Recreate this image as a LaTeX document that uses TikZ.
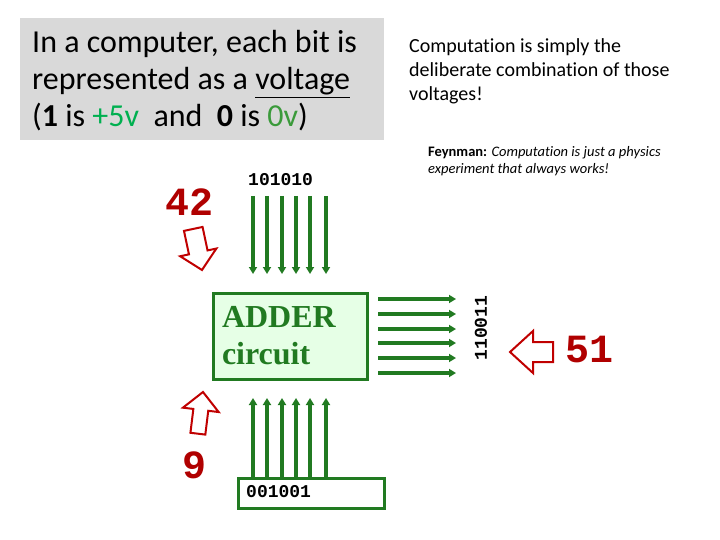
\documentclass[tikz,border=0pt]{standalone}
\usepackage{fontspec}
\setmainfont[Ligatures=NoCommon]{Carlito}
\newfontfamily\codefont{Liberation Mono}
\newfontfamily\adderfont{Liberation Serif}
\usepackage{xcolor}
\definecolor{busgreen}{HTML}{217A21}
\definecolor{adderfill}{HTML}{E6FFE6}
\definecolor{numred}{HTML}{B00000}
\definecolor{arrred}{HTML}{C00000}
\definecolor{panelgray}{HTML}{D9D9D9}
\definecolor{plusgreen}{HTML}{00B050}
\definecolor{zerogreen}{HTML}{3A9A3A}
\usepackage{tikz}
\usetikzlibrary{arrows.meta}

\begin{document}
\begin{tikzpicture}[x=1pt,y=-1pt,
  bus/.style={busgreen,line width=3.5pt,-{Triangle[length=7pt,width=8pt]}},
  bits/.style={font=\codefont\bfseries\fontsize{18}{18}\selectfont,inner sep=0pt},
  num/.style={font=\codefont\bfseries\fontsize{40}{40}\selectfont,text=numred,inner sep=0pt},
  hollow/.style={draw=arrred,line width=2pt,line join=miter,fill=white}]
\useasboundingbox (0,0) rectangle (720,540);
% grey panel with the voltage remark
\node[fill=panelgray,minimum width=364pt,minimum height=122pt,inner sep=0pt,anchor=north west] (panel) at (20,18) {};
\node[anchor=base west,inner sep=0pt,align=left,font=\fontsize{32}{37}\selectfont] (intro) at (32,127)
  {In a computer, each bit is\\represented as a \underline{voltage}\\(\textbf{1} is \textcolor{plusgreen}{+5v}\ \ and\ \ \textbf{0} is \textcolor{zerogreen}{0v})};
% remarks on the right
\node[anchor=base west,inner sep=0pt,align=left,font=\fontsize{20}{24}\selectfont] (remark) at (409,101)
  {Computation is simply the\\deliberate combination of those\\voltages!};
\node[anchor=base west,inner sep=0pt,align=left,font=\fontsize{14.5}{17.5}\selectfont] (quote) at (428,174)
  {\textbf{Feynman:} \textit{Computation is just a physics}\\\textit{experiment that always works!}};
% adder box
\node[draw=busgreen,line width=3pt,fill=adderfill,minimum width=154pt,minimum height=86pt,
  text width=136pt,inner xsep=9pt,align=left,text=busgreen,
  font=\adderfont\bfseries\fontsize{32}{37}\selectfont] (adder) at (290,336) {ADDER\\circuit};
% input a
\node[num,anchor=base west] (numa) at (165,215) {42};
\node[bits,anchor=base west] (bitsa) at (248,186) {101010};
\foreach \x [count=\i] in {253,267,282,296,310,326} {
  \coordinate (ta\i) at (\x,196);
  \coordinate (ha\i) at (\x,274);
  \draw[bus] (ta\i) -- (ha\i);
}
\draw[hollow,shift={(202,270)},rotate=-78] (0,0) -- (-18,-18.5) -- (-18,-9.5) -- (-42,-9.5)
  -- (-42,9.5) -- (-18,9.5) -- (-18,18.5) -- cycle;
% input b
\node[draw=busgreen,line width=3pt,fill=white,minimum width=146pt,minimum height=30pt,inner sep=0pt,anchor=north west] (boxb) at (237,477) {};
\node[bits,anchor=base west] (bitsb) at (246,497) {001001};
\foreach \x [count=\i] in {253,267,282,296,310,326} {
  \coordinate (tb\i) at (\x,477);
  \coordinate (hb\i) at (\x,398);
  \draw[bus] (tb\i) -- (hb\i);
}
\node[num,anchor=base west] (numb) at (182,478) {9};
\draw[hollow,shift={(203,392)},rotate=83] (0,0) -- (-18,-18) -- (-18,-7.5) -- (-42,-7.5)
  -- (-42,7.5) -- (-18,7.5) -- (-18,18) -- cycle;
% sum
\foreach \y [count=\i] in {299,314,329,343,358,373} {
  \coordinate (ts\i) at (378,\y);
  \coordinate (hs\i) at (456,\y);
  \draw[bus] (ts\i) -- (hs\i);
}
\node[bits,rotate=90] (bitss) at (481,328) {110011};
\draw[hollow,shift={(510,352)},rotate=180] (0,0) -- (-23,-21) -- (-23,-10) -- (-43,-10)
  -- (-43,10) -- (-23,10) -- (-23,21) -- cycle;
\node[num,anchor=base west] (nums) at (565,362) {51};
\end{tikzpicture}
\end{document}
